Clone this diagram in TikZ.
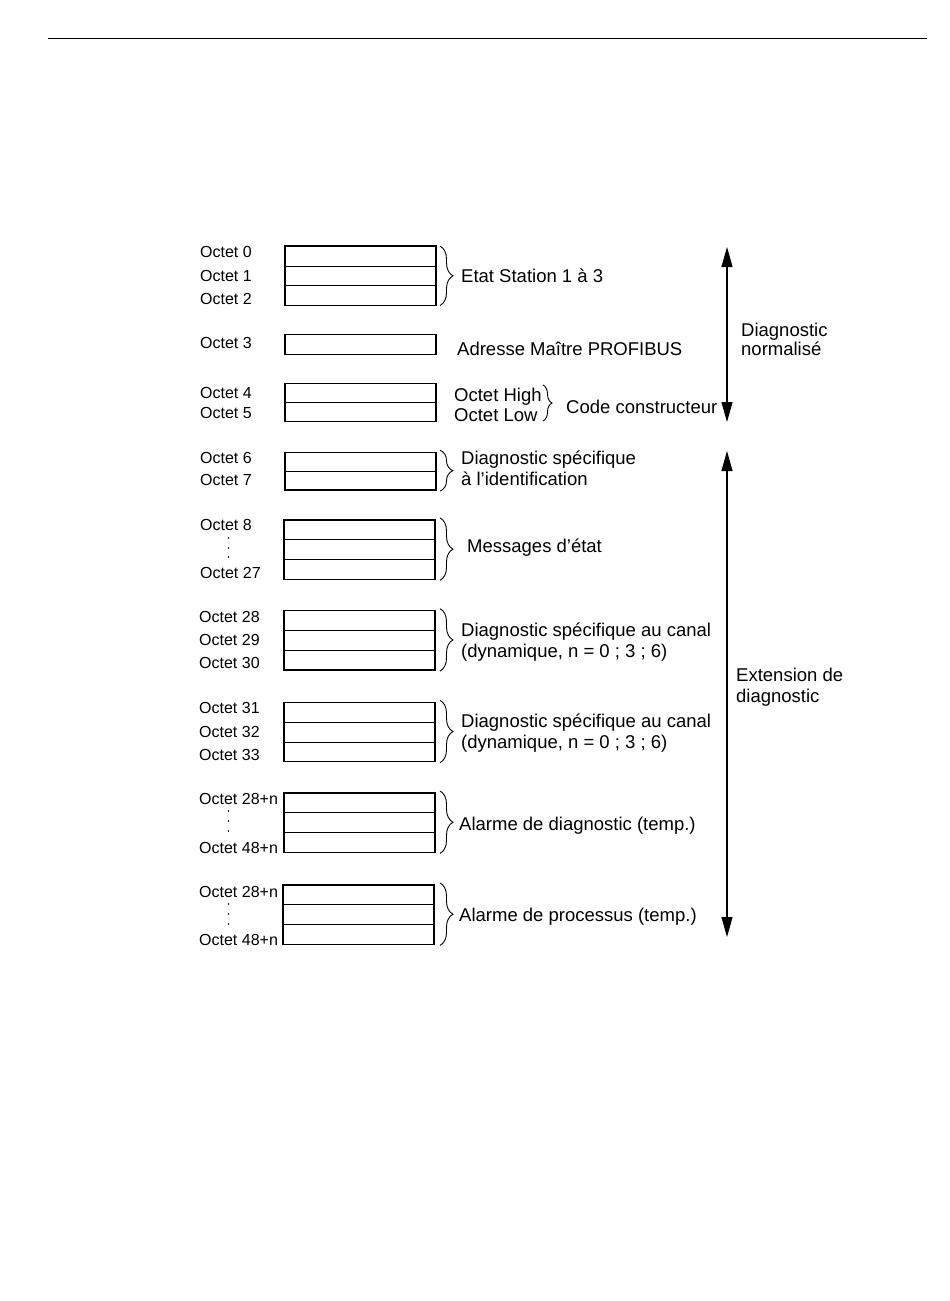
\documentclass[tikz,border=0pt]{standalone}
\usepackage{fontspec}
\setmainfont{Liberation Sans}
\usepackage{tikz}
\usetikzlibrary{calc, arrows.meta, positioning, decorations.pathreplacing}

\newcommand{\octfont}{\fontsize{16}{18}\selectfont}
\newcommand{\lblfont}{\fontsize{18.5}{21}\selectfont}

\begin{document}
\begin{tikzpicture}[x=1pt, y=-1pt, >=latex]
		\tikzstyle{octet} = [anchor=base west, inner sep=0pt, font=\octfont]
		\tikzstyle{label} = [anchor=base west, inner sep=0pt, font=\lblfont]
		\tikzstyle{cell} = [draw=black, rectangle, minimum width=151pt, minimum height=19.8pt, inner sep=0pt, outer sep=0pt, line width=0.7pt]
		\tikzstyle{frame} = [draw=black, line width=1.5pt]
		\tikzstyle{brace} = [decorate, decoration={brace, amplitude=13pt}, line width=0.9pt]
		\tikzstyle{smallbrace} = [decorate, decoration={brace, amplitude=9pt}, line width=0.9pt]
		\tikzstyle{arrow} = [line width=1.1pt, {Triangle[length=20pt, width=11pt]}-{Triangle[length=20pt, width=11pt]}]
		\tikzstyle{dot} = [circle, fill=black, inner sep=0pt, minimum size=1.6pt]
		
		\useasboundingbox (0, 0) rectangle (950, 1301);
		\draw[line width=0.8pt] (48, 38) -- (927, 38);
		
		% Octet 0 a 2
		\node[cell] at (360.5, 256) (c0) {};
		\node[cell, below=0pt of c0] (c1) {};
		\node[cell, below=0pt of c1] (c2) {};
		\draw[frame] (c0.north west) rectangle (c2.south east);
		\node[octet] at (200, 257) (o0) {Octet 0};
		\node[octet] at (200, 281) (o1) {Octet 1};
		\node[octet] at (200, 304) (o2) {Octet 2};
		\draw[brace] ($(c0.north east)+(4, 0)$) -- ($(c2.south east)+(4, 0)$);
		\node[label] at (461, 282) (etat) {Etat Station 1 à 3};
		
		% Octet 3
		\node[cell] at (360.5, 344.5) (c3) {};
		\draw[frame] (c3.north west) rectangle (c3.south east);
		\node[octet] at (200, 348) (o3) {Octet 3};
		\node[label] at (457, 355) (adr) {Adresse Maître PROFIBUS};
		
		% Octet 4 et 5
		\node[cell, minimum height=19.1pt] at (360.5, 393) (c4) {};
		\node[cell, minimum height=19.1pt, below=0pt of c4] (c5) {};
		\draw[frame] (c4.north west) rectangle (c5.south east);
		\node[octet] at (200, 398) (o4) {Octet 4};
		\node[octet] at (200, 418) (o5) {Octet 5};
		\node[label] at (454, 401) (high) {Octet High};
		\node[label] at (454, 421) (low) {Octet Low};
		\draw[smallbrace] (543, 385) -- (543, 421);
		\node[label] at (566, 413) (code) {Code constructeur};
		
		% Octet 6 et 7
		\node[cell, minimum height=18.9pt] at (360.5, 461.7) (c6) {};
		\node[cell, minimum height=18.9pt, below=0pt of c6] (c7) {};
		\draw[frame] (c6.north west) rectangle (c7.south east);
		\node[octet] at (200, 463) (o6) {Octet 6};
		\node[octet] at (200, 485) (o7) {Octet 7};
		\draw[brace] ($(c6.north east)+(4, -2)$) -- ($(c7.south east)+(4, 1)$);
		\node[label] at (461, 464) (ident1) {Diagnostic spécifique};
		\node[label] at (461, 485) (ident2) {à l'identification};
		
		% Octet 8 a 27
		\node[cell] at (359.5, 529.8) (c8) {};
		\node[cell, below=0pt of c8] (c9) {};
		\node[cell, below=0pt of c9] (c27) {};
		\draw[frame] (c8.north west) rectangle (c27.south east);
		\node[octet] at (200, 530) (o8) {Octet 8};
		\node[dot] at (228.5, 538) (d8a) {};
		\node[dot] at (228.5, 548) (d8b) {};
		\node[dot] at (228.5, 557) (d8c) {};
		\node[octet] at (200, 578) (o27) {Octet 27};
		\draw[brace] ($(c8.north east)+(5, -2)$) -- ($(c27.south east)+(5, 1)$);
		\node[label] at (467, 552) (msg) {Messages d'état};
		
		% Octet 28 a 30
		\node[cell] at (359.5, 620.6) (c28) {};
		\node[cell, below=0pt of c28] (c29) {};
		\node[cell, below=0pt of c29] (c30) {};
		\draw[frame] (c28.north west) rectangle (c30.south east);
		\node[octet] at (199, 622) (o28) {Octet 28};
		\node[octet] at (199, 645) (o29) {Octet 29};
		\node[octet] at (199, 668) (o30) {Octet 30};
		\draw[brace] ($(c28.north east)+(5, -2)$) -- ($(c30.south east)+(5, 1)$);
		\node[label] at (461, 636) (canal1) {Diagnostic spécifique au canal};
		\node[label] at (461, 657) (dyn1) {(dynamique, n = 0 ; 3 ; 6)};
		
		% Octet 31 a 33
		\node[cell] at (359.5, 712.2) (c31) {};
		\node[cell, below=0pt of c31] (c32) {};
		\node[cell, below=0pt of c32] (c33) {};
		\draw[frame] (c31.north west) rectangle (c33.south east);
		\node[octet] at (199, 713) (o31) {Octet 31};
		\node[octet] at (199, 737) (o32) {Octet 32};
		\node[octet] at (199, 760) (o33) {Octet 33};
		\draw[brace] ($(c31.north east)+(5, -2)$) -- ($(c33.south east)+(5, 1)$);
		\node[label] at (461, 727) (canal2) {Diagnostic spécifique au canal};
		\node[label] at (461, 748) (dyn2) {(dynamique, n = 0 ; 3 ; 6)};
		
		% Alarme de diagnostic
		\node[cell] at (359.5, 802.9) (c40) {};
		\node[cell, below=0pt of c40] (c41) {};
		\node[cell, below=0pt of c41] (c42) {};
		\draw[frame] (c40.north west) rectangle (c42.south east);
		\node[octet] at (199, 804) (o40) {Octet 28+n};
		\node[dot] at (228.5, 811) (d40a) {};
		\node[dot] at (228.5, 821) (d40b) {};
		\node[dot] at (228.5, 831) (d40c) {};
		\node[octet] at (199, 853) (o42) {Octet 48+n};
		\draw[brace] ($(c40.north east)+(5, -2)$) -- ($(c42.south east)+(5, 1)$);
		\node[label] at (459, 830) (alDiag) {Alarme de diagnostic (temp.)};
		
		% Alarme de processus
		\node[cell] at (358.5, 894.9) (c50) {};
		\node[cell, below=0pt of c50] (c51) {};
		\node[cell, below=0pt of c51] (c52) {};
		\draw[frame] (c50.north west) rectangle (c52.south east);
		\node[octet] at (199, 897) (o50) {Octet 28+n};
		\node[dot] at (228.5, 904) (d50a) {};
		\node[dot] at (228.5, 914) (d50b) {};
		\node[dot] at (228.5, 924) (d50c) {};
		\node[octet] at (199, 945) (o52) {Octet 48+n};
		\draw[brace] ($(c50.north east)+(6, -2)$) -- ($(c52.south east)+(6, 1)$);
		\node[label] at (459, 921) (alProc) {Alarme de processus (temp.)};
		
		% fleches a droite
		\coordinate (normTop) at (727, 247);
		\coordinate (normBot) at (727, 422);
		\coordinate (extTop) at (727, 451);
		\coordinate (extBot) at (727, 937);
		\draw[arrow] (normTop) -- (normBot);
		\draw[arrow] (extTop) -- (extBot);
		\node[label] at (741, 336) (norm1) {Diagnostic};
		\node[label] at (741, 355) (norm2) {normalisé};
		\node[label] at (736, 681) (ext1) {Extension de};
		\node[label] at (736, 702) (ext2) {diagnostic};
	\end{tikzpicture}
\end{document}
